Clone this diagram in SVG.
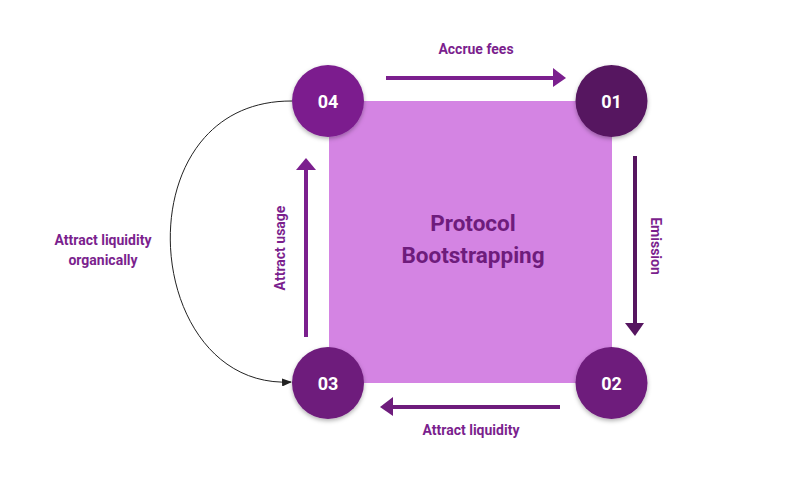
<svg xmlns="http://www.w3.org/2000/svg" width="801" height="481" viewBox="0 0 801 481">
<defs>
<filter id="sh" x="-30%" y="-30%" width="160%" height="170%">
<feDropShadow dx="0" dy="2" stdDeviation="2" flood-color="#000" flood-opacity="0.3"/>
</filter>
<marker id="ah" markerWidth="10" markerHeight="8" refX="9" refY="4" orient="auto" markerUnits="userSpaceOnUse">
<path d="M0,0 L10,4 L0,8 Z" fill="#222"/>
</marker>
</defs>
<style>
.lbl{font-family:Roboto,"Liberation Sans",sans-serif;font-weight:bold;font-size:14px;fill:#7B1F8E;text-anchor:middle}
.num{font-family:Roboto,"Liberation Sans",sans-serif;font-weight:bold;font-size:18px;fill:#fff;text-anchor:middle}
.title{font-family:Roboto,"Liberation Sans",sans-serif;font-weight:bold;font-size:22.5px;fill:#6E1C7C;text-anchor:middle}
.shaft{stroke-width:4;fill:none}
</style>
<rect width="801" height="481" fill="#fff"/>
<g id="center">
<rect x="329" y="101" width="283" height="282" fill="#D484E3"/>
<text class="title" x="473" y="231">Protocol</text>
<text class="title" x="473" y="263">Bootstrapping</text>
</g>
<g id="connectors">
<line class="shaft" x1="386" y1="78" x2="555" y2="78" stroke="#7B1F8E"/>
<path d="M553,68 L566,78 L553,87 Z" fill="#7B1F8E"/>
<line class="shaft" x1="635" y1="156" x2="635" y2="325" stroke="#561660"/>
<path d="M625,323 L635,336 L644,323 Z" fill="#561660"/>
<line class="shaft" x1="560" y1="407" x2="391" y2="407" stroke="#6E1C7C"/>
<path d="M393,397 L380,407 L393,416 Z" fill="#6E1C7C"/>
<line class="shaft" x1="306" y1="337" x2="306" y2="168" stroke="#7B1F8E"/>
<path d="M296,170 L306,158 L316,170 Z" fill="#7B1F8E"/>
<path d="M292,101 C120,100 140,390 291,382" fill="none" stroke="#222" stroke-width="1" marker-end="url(#ah)"/>
<text class="lbl" x="476" y="54">Accrue fees</text>
<text class="lbl" transform="translate(651,246) rotate(90)" y="0">Emission</text>
<text class="lbl" x="471" y="435">Attract liquidity</text>
<text class="lbl" transform="translate(285,248) rotate(-90)">Attract usage</text>
<text class="lbl" x="103" y="245">Attract liquidity</text>
<text class="lbl" x="103" y="265">organically</text>
</g>
<g id="n01">
<circle cx="611.5" cy="101" r="36" fill="#561660" filter="url(#sh)"/>
<text class="num" x="611.5" y="107.5">01</text>
</g>
<g id="n02">
<circle cx="611.5" cy="383" r="36" fill="#6E1C7C" filter="url(#sh)"/>
<text class="num" x="611.5" y="389.5">02</text>
</g>
<g id="n03">
<circle cx="328" cy="383" r="36" fill="#6E1C7C" filter="url(#sh)"/>
<text class="num" x="328" y="389.5">03</text>
</g>
<g id="n04">
<circle cx="328" cy="101" r="36" fill="#7B1F8E" filter="url(#sh)"/>
<text class="num" x="328" y="107.5">04</text>
</g>
</svg>
